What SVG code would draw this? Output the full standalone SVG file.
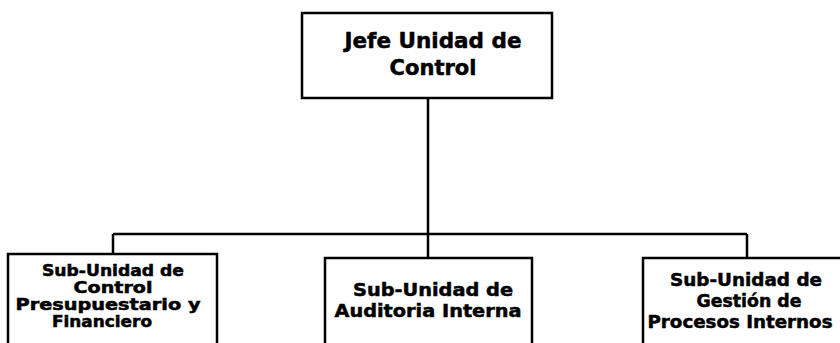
<svg xmlns="http://www.w3.org/2000/svg" width="840" height="343" viewBox="0 0 840 343">
<style>
.box{fill:#fff;stroke:#000;stroke-width:2.5}
.con{fill:none;stroke:#000;stroke-width:2.5}
text{font-family:"DejaVu Sans","Verdana",sans-serif;font-weight:bold;fill:#000;stroke:#000;stroke-width:0.5;text-anchor:middle}
.t1{font-size:22px}
.t2{font-size:17.5px}
.t3{font-size:15px}
</style>
<rect width="840" height="343" fill="#fff"/>
<g id="connectors">
<path class="con" d="M428 98 V234 M113 234 H747 M113 234 V254 M428 234 V258 M747 234 V258"/>
</g>
<g id="jefe">
<rect class="box" x="302" y="13" width="250" height="85"/>
<text class="t1" x="433" y="48" textLength="177" lengthAdjust="spacingAndGlyphs">Jefe Unidad de</text>
<text class="t1" x="433" y="75" textLength="87" lengthAdjust="spacingAndGlyphs">Control</text>
</g>
<g id="presupuestario">
<rect class="box" x="8" y="254" width="209" height="100"/>
<text class="t3" x="113" y="276" textLength="142" lengthAdjust="spacingAndGlyphs">Sub-Unidad de</text>
<text class="t3" x="113" y="293" textLength="79" lengthAdjust="spacingAndGlyphs">Control</text>
<text class="t3" x="108" y="310" textLength="185" lengthAdjust="spacingAndGlyphs">Presupuestario y</text>
<text class="t3" x="102" y="327" textLength="100" lengthAdjust="spacingAndGlyphs">Financiero</text>
</g>
<g id="auditoria">
<rect class="box" x="325" y="258" width="207" height="100"/>
<text class="t2" x="433" y="296" textLength="160" lengthAdjust="spacingAndGlyphs">Sub-Unidad de</text>
<text class="t2" x="428" y="317" textLength="187" lengthAdjust="spacingAndGlyphs">Auditoria Interna</text>
</g>
<g id="gestion">
<rect class="box" x="643" y="258" width="210" height="100"/>
<text class="t2" x="746" y="286" textLength="152" lengthAdjust="spacingAndGlyphs">Sub-Unidad de</text>
<text class="t2" x="749" y="307" textLength="105" lengthAdjust="spacingAndGlyphs">Gestión de</text>
<text class="t2" x="740" y="328" textLength="185" lengthAdjust="spacingAndGlyphs">Procesos Internos</text>
</g>
</svg>
